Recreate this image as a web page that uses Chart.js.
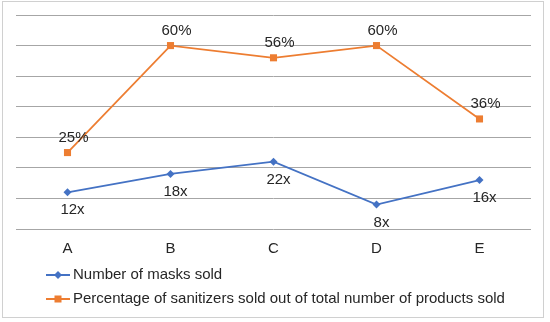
<!DOCTYPE html>
<html>
<head>
<meta charset="utf-8">
<script src="https://cdn.jsdelivr.net/npm/chart.js@4.4.1/dist/chart.umd.min.js"></script>
<style>
  html, body { margin: 0; padding: 0; background: #fff; }
  #wrap { position: absolute; left: 0; top: 0; width: 550px; height: 322px; }
</style>
</head>
<body>
<div id="wrap"><canvas id="chart" width="550" height="322"></canvas></div>
<script>
const categories = ["A", "B", "C", "D", "E"];
const masksSold = [12, 18, 22, 8, 16];
const sanitizerPct = [25, 60, 56, 60, 36];
const masksLabel = "Number of masks sold";
const sanitizerLabel = "Percentage of sanitizers sold out of total number of products sold";

const BLUE = "#4472C4";
const ORANGE = "#ED7D31";
const FONT = "'Liberation Sans', Arial, sans-serif";

// outer border of the chart box
const borderPlugin = {
    id: "border",
    beforeDraw(chart) {
        const ctx = chart.ctx;
        ctx.save();
        ctx.fillStyle = "#fff";
        ctx.fillRect(0, 0, chart.width, chart.height);
        ctx.strokeStyle = "#d0d0d0";
        ctx.lineWidth = 1;
        ctx.strokeRect(2.5, 1.5, 541, 316);
        ctx.restore();
    }
};

// value labels next to the points
const valueLabels = {
    id: "valueLabels",
    afterDatasetsDraw(chart) {
        const ctx = chart.ctx;
        ctx.save();
        ctx.font = "15px " + FONT;
        ctx.fillStyle = "#262626";
        ctx.textAlign = "center";
        ctx.textBaseline = "middle";
        chart.data.datasets.forEach((ds, i) => {
            const meta = chart.getDatasetMeta(i);
            meta.data.forEach((pt, j) => {
                ctx.fillText(ds.data[j] + ds.suffix, pt.x + ds.labelDx, pt.y + ds.labelDy);
            });
        });
        ctx.restore();
    }
};

// Excel style legend: line with marker, stacked vertically
const lineLegend = {
    id: "lineLegend",
    afterDraw(chart) {
        const ctx = chart.ctx;
        ctx.save();
        ctx.font = "15px " + FONT;
        ctx.textBaseline = "middle";
        chart.data.datasets.forEach((ds, i) => {
            const y = 275 + i * 24;
            ctx.strokeStyle = ds.borderColor;
            ctx.lineWidth = 2;
            ctx.beginPath();
            ctx.moveTo(46, y);
            ctx.lineTo(70, y);
            ctx.stroke();
            ctx.fillStyle = ds.borderColor;
            if (ds.pointStyle === "rectRot") {
                ctx.beginPath();
                ctx.moveTo(58, y - 4);
                ctx.lineTo(62, y);
                ctx.lineTo(58, y + 4);
                ctx.lineTo(54, y);
                ctx.closePath();
                ctx.fill();
            } else {
                ctx.fillRect(54.5, y - 3.5, 7, 7);
            }
            ctx.fillStyle = "#262626";
            ctx.fillText(ds.label, 73, y);
        });
        ctx.restore();
    }
};

new Chart(document.getElementById("chart"), {
    type: "line",
    data: {
        labels: categories,
        datasets: [
            {
                label: masksLabel,
                data: masksSold,
                suffix: "x",
                labelDx: 5,
                labelDy: 18,
                borderColor: BLUE,
                backgroundColor: BLUE,
                borderWidth: 1.75,
                pointStyle: "rectRot",
                pointRadius: 4,
                pointBorderWidth: 0,
                tension: 0
            },
            {
                label: sanitizerLabel,
                data: sanitizerPct,
                suffix: "%",
                labelDx: 6,
                labelDy: -15,
                borderColor: ORANGE,
                backgroundColor: ORANGE,
                borderWidth: 1.75,
                pointStyle: "rect",
                pointRadius: 5,
                pointBorderWidth: 0,
                tension: 0
            }
        ]
    },
    options: {
        responsive: false,
        animation: false,
        layout: { padding: { left: 16, right: 19, top: 15, bottom: 61 } },
        scales: {
            x: {
                offset: true,
                grid: { display: false },
                border: { display: false },
                ticks: { color: "#262626", font: { family: FONT, size: 15 }, padding: 3 }
            },
            y: {
                min: 0,
                max: 70,
                ticks: { display: false, stepSize: 10 },
                border: { display: false },
                grid: { color: "#a6a6a6", lineWidth: 1, drawTicks: false }
            }
        },
        plugins: {
            legend: { display: false },
            tooltip: { enabled: false }
        }
    },
    plugins: [borderPlugin, valueLabels, lineLegend]
});
</script>
</body>
</html>
